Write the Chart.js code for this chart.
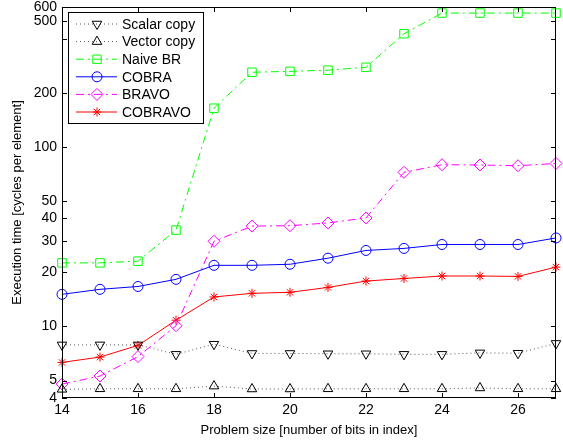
<!DOCTYPE html>
<html>
<head>
<meta charset="utf-8">
<script src="https://cdn.jsdelivr.net/npm/chart.js@4.4.1/dist/chart.umd.min.js"></script>
<style>
html,body{margin:0;padding:0;background:#fff;}
#wrap{position:relative;width:563px;height:443px;}
</style>
</head>
<body>
<div id="wrap"><canvas id="c" width="563" height="443"></canvas></div>
<script>
const bits = [14,15,16,17,18,19,20,21,22,23,24,25,26,27];
const scalarCopy = [7.9,7.9,7.9,7.0,7.97,7.08,7.08,7.05,7.05,7.0,7.0,7.13,7.1,8.05];
const vectorCopy = [4.47,4.5,4.5,4.5,4.66,4.49,4.49,4.5,4.5,4.5,4.5,4.55,4.5,4.5];
const naiveBR = [22.6,22.6,23.1,34.4,164,260,263,267,277,426,555,555,555,555];
const cobra = [15.1,16.1,16.7,18.3,21.9,21.9,22.2,24.0,26.5,27.2,28.6,28.6,28.6,31.1];
const bravo = [4.78,5.3,6.8,10.1,29.8,36.2,36.4,37.7,40.2,72.1,79.5,79.2,78.5,80.8];
const cobravo = [6.31,6.76,7.85,10.84,14.6,15.3,15.5,16.5,17.9,18.5,19.1,19.1,19.0,21.4];
const xTicks = [14,16,18,20,22,24,26];
const yTicks = [4,5,10,20,30,40,50,100,200,500,600];

const FONT = "'Liberation Sans', Arial, sans-serif";

function pts(arr){ return arr.map((v,i)=>({x:bits[i],y:v})); }

function ds(label,data,color,lineColor,dash,style,rot,radius){
  return {label,data:pts(data),borderColor:lineColor,borderWidth:1,borderDash:dash,
    pointStyle:style,rotation:rot,pointRadius:radius,pointBorderColor:color,
    pointBackgroundColor:'rgba(0,0,0,0)',pointBorderWidth:1,tension:0,fill:false,clip:false};
}

const datasets = [
  ds('Scalar copy',scalarCopy,'#000','#555',[1,3],'triangle',180,5.5),
  ds('Vector copy',vectorCopy,'#000','#555',[1,3],'triangle',0,5.5),
  ds('Naive BR',naiveBR,'#00ff00','#00ff00',[8,4,2,4],'rect',0,6),
  ds('COBRA',cobra,'#0000ff','#0000ff',[],'circle',0,5),
  ds('BRAVO',bravo,'#ff00ff','#ff00ff',[8,4,2,4],'rectRot',0,6),
  ds('COBRAVO',cobravo,'#ff0000','#ff0000',[],'star',0,4.5)
];

function drawMarker(ctx,d,x,y){
  const r=d.pointRadius;
  ctx.save();
  ctx.setLineDash([]);
  ctx.strokeStyle=d.pointBorderColor;
  ctx.lineWidth=1;
  ctx.beginPath();
  if(d.pointStyle==='triangle'){
    const s=d.rotation===180?-1:1;
    ctx.moveTo(x,y-s*r);
    ctx.lineTo(x+r*0.87,y+s*r*0.5);
    ctx.lineTo(x-r*0.87,y+s*r*0.5);
    ctx.closePath();
  } else if(d.pointStyle==='rect'){
    ctx.rect(x-r*0.7,y-r*0.7,r*1.4,r*1.4);
  } else if(d.pointStyle==='circle'){
    ctx.arc(x,y,r,0,Math.PI*2);
  } else if(d.pointStyle==='rectRot'){
    ctx.moveTo(x,y-r);ctx.lineTo(x+r,y);ctx.lineTo(x,y+r);ctx.lineTo(x-r,y);ctx.closePath();
  } else if(d.pointStyle==='star'){
    for(let k=0;k<4;k++){
      const a=k*Math.PI/4;
      ctx.moveTo(x-Math.cos(a)*r,y-Math.sin(a)*r);
      ctx.lineTo(x+Math.cos(a)*r,y+Math.sin(a)*r);
    }
  }
  ctx.stroke();
  ctx.restore();
}

function noPad(s){ s.paddingTop=0; s.paddingBottom=0; s.paddingLeft=0; s.paddingRight=0; }

// box, inward ticks and legend drawn by hand (matlab look)
const frame = {
  id:'frame',
  afterDraw(chart){
    const {ctx,chartArea:a,scales:{x,y}}=chart;
    ctx.save();
    ctx.strokeStyle='#000';
    ctx.lineWidth=1;
    ctx.setLineDash([]);
    ctx.strokeRect(a.left+0.5,a.top+0.5,a.right-a.left-1,a.bottom-a.top-1);
    ctx.beginPath();
    xTicks.forEach(v=>{
      const px=Math.round(x.getPixelForValue(v))+0.5;
      ctx.moveTo(px,a.bottom);ctx.lineTo(px,a.bottom-5);
      ctx.moveTo(px,a.top);ctx.lineTo(px,a.top+5);
    });
    yTicks.concat([400]).forEach(v=>{
      const py=Math.round(y.getPixelForValue(v))+0.5;
      ctx.moveTo(a.left,py);ctx.lineTo(a.left+5,py);
      ctx.moveTo(a.right,py);ctx.lineTo(a.right-5,py);
    });
    ctx.stroke();

    // legend
    const lx=68, ly=12, lw=135, lh=111;
    ctx.fillStyle='#fff';
    ctx.fillRect(lx,ly,lw,lh);
    ctx.strokeRect(lx+0.5,ly+0.5,lw,lh);
    ctx.font='14px '+FONT;
    ctx.textBaseline='middle';
    chart.data.datasets.forEach((d,i)=>{
      const ry=ly+12+i*17.6;
      ctx.save();
      ctx.strokeStyle=d.borderColor;
      ctx.setLineDash(d.borderDash);
      ctx.beginPath();
      ctx.moveTo(76,ry);ctx.lineTo(117,ry);
      ctx.stroke();
      ctx.restore();
      drawMarker(ctx,d,97,ry);
      ctx.fillStyle='#000';
      ctx.fillText(d.label,122,ry+1);
    });
    ctx.restore();
  }
};

new Chart(document.getElementById('c'),{
  type:'line',
  data:{datasets},
  options:{
    responsive:false,
    animation:false,
    events:[],
    layout:{padding:{left:0,right:3,top:6,bottom:0}},
    plugins:{legend:{display:false},tooltip:{enabled:false}},
    scales:{
      x:{
        type:'linear',min:14,max:27,
        afterBuildTicks:s=>{s.ticks=xTicks.map(v=>({value:v}));},
        afterFit:s=>{s.height=45;noPad(s);},
        grid:{display:false,drawTicks:false},border:{display:false},
        ticks:{color:'#000',font:{family:FONT,size:14},padding:4,maxRotation:0,autoSkip:false},
        title:{display:true,text:'Problem size [number of bits in index]',color:'#000',font:{family:FONT,size:13},padding:{top:0,bottom:5}}
      },
      y:{
        type:'logarithmic',min:4,max:600,
        afterBuildTicks:s=>{s.ticks=yTicks.map(v=>({value:v}));},
        afterFit:s=>{s.width=62;noPad(s);},
        grid:{display:false,drawTicks:false},border:{display:false},
        ticks:{color:'#000',font:{family:FONT,size:14},padding:5,autoSkip:false,callback:v=>String(v)},
        title:{display:true,text:'Execution time [cycles per element]',color:'#000',font:{family:FONT,size:13},padding:{top:10,bottom:0}}
      }
    }
  },
  plugins:[frame]
});
</script>
</body>
</html>
